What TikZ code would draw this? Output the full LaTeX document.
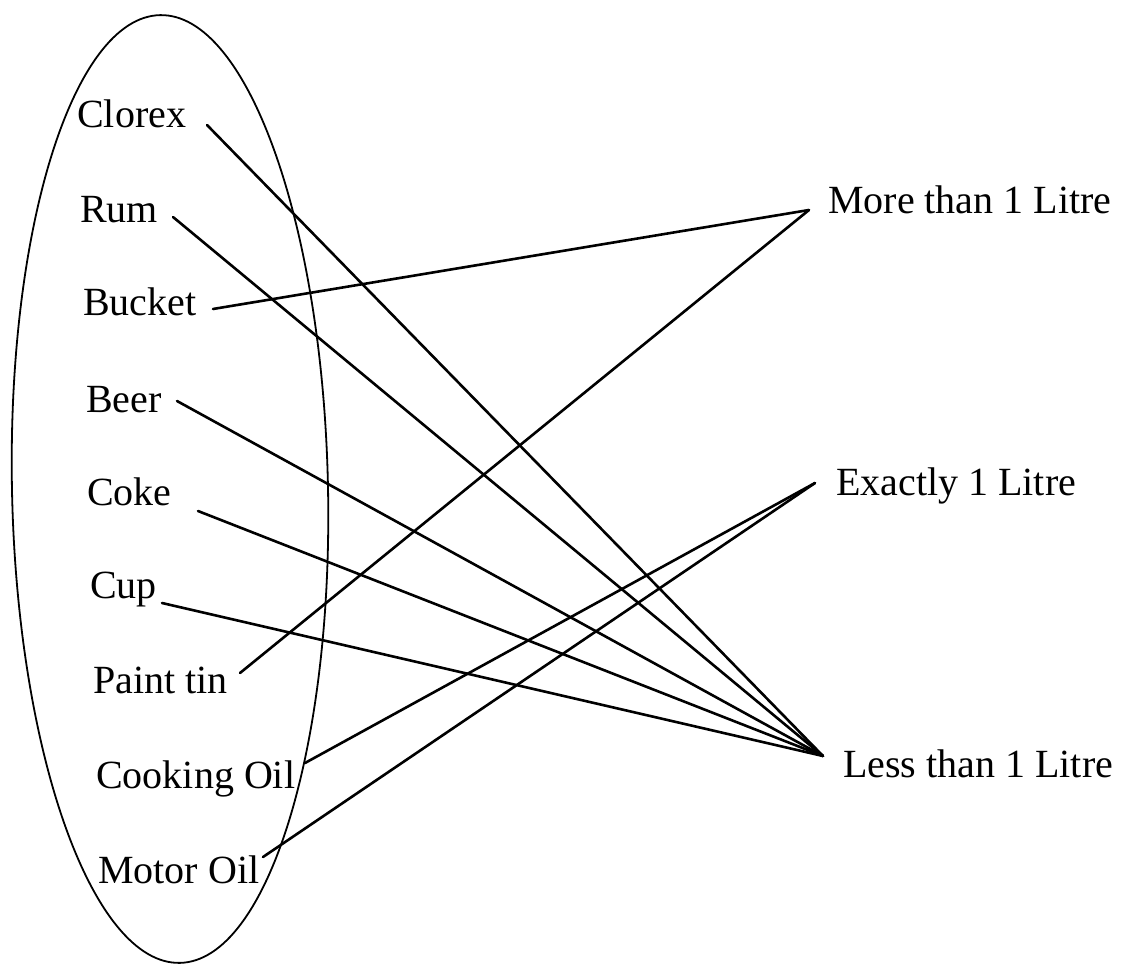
\documentclass[tikz,border=0pt]{standalone}
\usepackage{fontspec}
\setmainfont{Liberation Serif}
\begin{document}
\begin{tikzpicture}[x=1pt,y=-1pt,
  lbl/.style={anchor=base west,inner sep=0pt,font=\fontsize{40}{48}\selectfont},
  conn/.style={line width=2.6pt,line cap=round},
  outline/.style={line width=1.8pt}]
\useasboundingbox (0,0) rectangle (1125,966);
\draw[outline, rotate around={1.2:(170,489)}] (170,489) ellipse [x radius=158pt, y radius=474pt];
% left labels
\node[lbl] (clorex) at (77,128) {Clorex};
\node[lbl] (rum) at (80,222) {Rum};
\node[lbl] (bucket) at (83,315) {Bucket};
\node[lbl] (beer) at (86,412) {Beer};
\node[lbl] (coke) at (87,505) {Coke};
\node[lbl] (cup) at (90,598) {Cup};
\node[lbl] (paint) at (93,693) {Paint tin};
\node[lbl] (cooking) at (96,788) {Cooking Oil};
\node[lbl] (motor) at (98,883) {Motor Oil};
% right labels
\node[lbl] (more) at (828,213) {More than 1 Litre};
\node[lbl] (exact) at (836,495) {Exactly 1 Litre};
\node[lbl] (less) at (843,777) {Less than 1 Litre};
% connector ends
\coordinate (clorexE) at (207,125);
\coordinate (rumE) at (173,217);
\coordinate (bucketE) at (213,309);
\coordinate (beerE) at (177,401);
\coordinate (cokeE) at (198,511);
\coordinate (cupE) at (162,603);
\coordinate (paintE) at (240,673);
\coordinate (cookingE) at (305,763);
\coordinate (motorE) at (263,857);
\coordinate (moreW) at (809,210);
\coordinate (exactW) at (815,483);
\coordinate (lessW) at (823,756);
% connectors
\draw[conn] (clorexE) -- (lessW);
\draw[conn] (rumE) -- (lessW);
\draw[conn] (bucketE) -- (moreW);
\draw[conn] (beerE) -- (lessW);
\draw[conn] (cokeE) -- (lessW);
\draw[conn] (cupE) -- (lessW);
\draw[conn] (paintE) -- (moreW);
\draw[conn] (cookingE) -- (exactW);
\draw[conn] (motorE) -- (exactW);
\end{tikzpicture}
\end{document}
